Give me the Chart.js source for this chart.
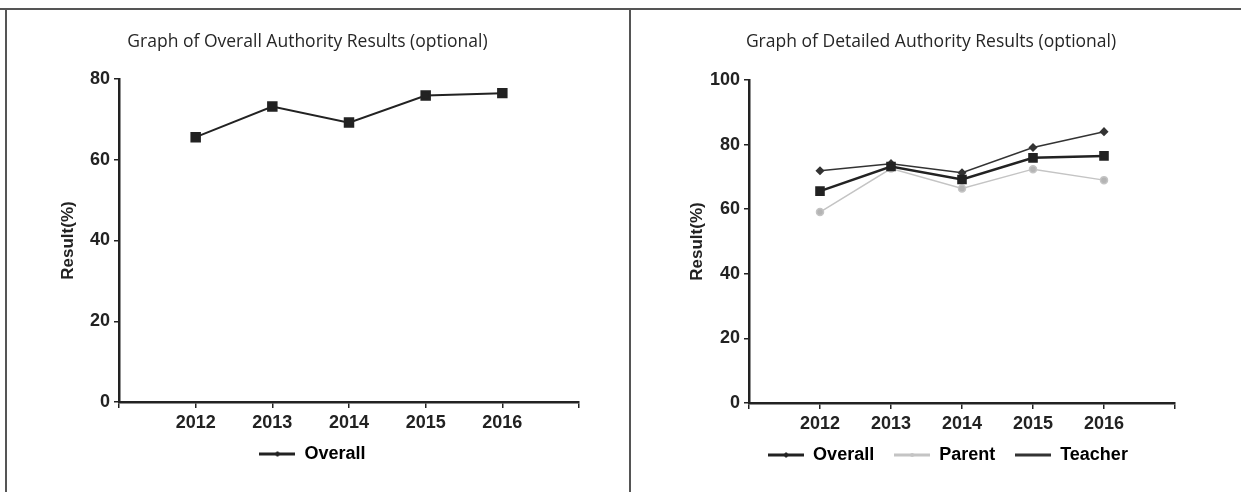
<!DOCTYPE html>
<html>
<head>
<meta charset="utf-8">
<script src="https://cdn.jsdelivr.net/npm/chart.js@4"></script>
<style>
  html, body { margin: 0; padding: 0; background: #fff; }
  body { width: 1241px; height: 492px; position: relative; overflow: hidden; }
  .pane { position: absolute; top: 0; height: 492px; }
  #leftPane { left: 0; width: 630px; }
  #rightPane { left: 632px; width: 609px; }
  .rule { position: absolute; background: #555; }
</style>
</head>
<body>
<div class="pane" id="leftPane"><canvas id="overallChart" width="630" height="492"></canvas></div>
<div class="pane" id="rightPane"><canvas id="detailChart" width="609" height="492"></canvas></div>
<div class="rule" style="left:0;top:8px;width:1241px;height:2px;"></div>
<div class="rule" style="left:5px;top:8px;width:2px;height:484px;"></div>
<div class="rule" style="left:629px;top:8px;width:2px;height:484px;"></div>

<script>
// Survey years and results (%)
const years = [2012, 2013, 2014, 2015, 2016];
const overall = [65.6, 73.2, 69.2, 75.9, 76.5];
const parent = [59.1, 72.6, 66.4, 72.4, 69.0];
const teacher = [71.9, 74.1, 71.3, 79.1, 84.0];
const overallTicks = [0, 20, 40, 60, 80];
const detailTicks = [0, 20, 40, 60, 80, 100];

const INK = '#222';
const SANS = "'Liberation Sans', Arial, sans-serif";
const TICK_FONT = { family: SANS, size: 18, weight: 'bold' };

function points(values) {
  return years.map((y, i) => ({ x: y, y: values[i] }));
}

// small legend swatch: a line with the series marker in the middle
function swatch(color, lineWidth, marker, size) {
  const c = document.createElement('canvas');
  c.width = 36; c.height = 12;
  const g = c.getContext('2d');
  g.strokeStyle = color; g.fillStyle = color; g.lineWidth = lineWidth;
  g.beginPath(); g.moveTo(0, 6); g.lineTo(36, 6); g.stroke();
  if (marker === 'diamond') {
    g.beginPath(); g.moveTo(18, 6 - size); g.lineTo(18 + size, 6); g.lineTo(18, 6 + size); g.lineTo(18 - size, 6); g.closePath(); g.fill();
  } else if (marker === 'circle') {
    g.beginPath(); g.arc(18, 6, size, 0, Math.PI * 2); g.fill();
  }
  return c;
}

// nudges the title and legend boxes without touching the plot area
const boxShift = {
  id: 'boxShift',
  afterLayout(chart, args, opts) {
    const lg = chart.legend;
    if (lg) {
      lg.left += opts.legendDx || 0; lg.right += opts.legendDx || 0;
      lg.top += opts.legendDy || 0; lg.bottom += opts.legendDy || 0;
    }
    const tb = chart.titleBlock;
    if (tb) { tb.left += opts.titleDx || 0; tb.right += opts.titleDx || 0; }
  }
};

function buildOptions(yTicks, yMax, area) {
  return {
    responsive: false,
    animation: false,
    layout: { padding: { left: area.padLeft, right: area.padRight, top: 0, bottom: area.padBottom } },
    plugins: {
      boxShift: { legendDx: area.legendDx, legendDy: area.legendDy, titleDx: area.titleDx },
      title: {
        display: true,
        text: area.title,
        color: '#262626',
        font: { family: "'Open Sans', sans-serif", size: 17.5, weight: 'normal' },
        padding: { top: area.titleTop, bottom: area.titleBottom }
      },
      legend: {
        position: 'bottom',
        labels: {
          usePointStyle: true,
          pointStyleWidth: 36,
          boxHeight: 12,
          padding: 20,
          color: INK,
          font: { family: SANS, size: 18, weight: 'bold' },
          generateLabels(chart) {
            return chart.data.datasets.map((ds, i) => ({
              text: ds.label,
              pointStyle: ds.legendSwatch,
              fillStyle: ds.borderColor,
              strokeStyle: ds.borderColor,
              lineWidth: 0,
              hidden: false,
              datasetIndex: i
            }));
          }
        }
      },
      tooltip: { enabled: false }
    },
    scales: {
      x: {
        type: 'linear',
        min: years[0] - 1,
        max: years[years.length - 1] + 1,
        afterBuildTicks(scale) {
          const t = [];
          for (let v = scale.min; v <= scale.max; v++) t.push({ value: v });
          scale.ticks = t;
        },
        afterFit(scale) { scale.height = area.xHeight; },
        ticks: {
          color: INK,
          font: TICK_FONT,
          padding: 4,
          maxRotation: 0,
          autoSkip: false,
          callback: v => years.includes(v) ? String(v) : ''
        },
        grid: { drawOnChartArea: false, drawTicks: true, tickLength: 6, color: INK, lineWidth: 1.5 },
        border: { display: true, color: INK, width: 2.5 }
      },
      y: {
        min: 0,
        max: yMax,
        afterBuildTicks(scale) { scale.ticks = yTicks.map(v => ({ value: v })); },
        afterFit(scale) { scale.width = area.yWidth; },
        title: {
          display: true,
          text: 'Result(%)',
          color: INK,
          font: { family: SANS, size: 17, weight: 'bold' },
          padding: { top: 0, bottom: 0 }
        },
        ticks: { color: INK, font: TICK_FONT, padding: 4 },
        grid: { drawOnChartArea: false, drawTicks: true, tickLength: 5, color: INK, lineWidth: 1.5 },
        border: { display: true, color: INK, width: 2.5 }
      }
    }
  };
}

// Overall results
new Chart(document.getElementById('overallChart'), {
  type: 'line',
  plugins: [boxShift],
  data: {
    datasets: [{
      label: 'Overall',
      data: points(overall),
      borderColor: '#222',
      backgroundColor: '#222',
      borderWidth: 2,
      pointStyle: 'rect',
      pointRadius: 6,
      tension: 0,
      legendSwatch: swatch('#222', 3, 'diamond', 3)
    }]
  },
  options: buildOptions(overallTicks, 80, {
    title: 'Graph of Overall Authority Results (optional)',
    padLeft: 58, padRight: 51, padBottom: 9,
    titleTop: 31.5, titleBottom: 26.5,
    yWidth: 61, xHeight: 33,
    legendDx: -6, legendDy: -10, titleDx: -11
  })
});

// Overall, parent and teacher results
new Chart(document.getElementById('detailChart'), {
  type: 'line',
  plugins: [boxShift],
  data: {
    datasets: [
      {
        label: 'Overall',
        data: points(overall),
        borderColor: '#222',
        backgroundColor: '#222',
        borderWidth: 2.5,
        pointStyle: 'rect',
        pointRadius: 5,
        tension: 0,
        legendSwatch: swatch('#222', 3, 'diamond', 3)
      },
      {
        label: 'Parent',
        data: points(parent),
        borderColor: '#c4c4c4',
        backgroundColor: '#b4b4b4',
        borderWidth: 1.5,
        pointStyle: 'circle',
        pointRadius: 3.5,
        tension: 0,
        legendSwatch: swatch('#c4c4c4', 3, 'circle', 2)
      },
      {
        label: 'Teacher',
        data: points(teacher),
        borderColor: '#333',
        backgroundColor: '#333',
        borderWidth: 1.5,
        pointStyle: 'rectRot',
        pointRadius: 3.5,
        tension: 0,
        legendSwatch: swatch('#333', 3, 'none', 0)
      }
    ]
  },
  options: buildOptions(detailTicks, 100, {
    title: 'Graph of Detailed Authority Results (optional)',
    padLeft: 55, padRight: 66, padBottom: 8,
    titleTop: 31.5, titleBottom: 27.5,
    yWidth: 62, xHeight: 33,
    legendDx: 17, legendDy: -10, titleDx: 0
  })
});
</script>
</body>
</html>
